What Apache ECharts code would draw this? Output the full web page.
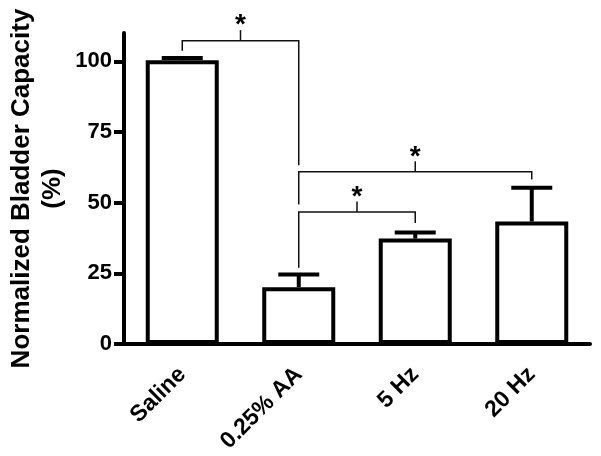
<!DOCTYPE html>
<html>
<head>
<meta charset="utf-8">
<script src="https://cdn.jsdelivr.net/npm/echarts@6/dist/echarts.min.js"></script>
<style>html,body{margin:0;padding:0;background:#fff}#c{width:601px;height:456px}</style>
</head>
<body>
<div id="c"></div>
<script>
// ---- data ----
var categories = ['Saline', '0.25% AA', '5 Hz', '20 Hz'];
var means = [100.4, 20.1, 37.3, 43.3];
var sems = [0.8, 4.5, 2.1, 12.0];
var yTicks = [0, 25, 50, 75, 100];
// significance brackets: from/to category index, bar height, leg ends, label
var bracketFrom = [0, 1, 1];
var bracketTo = [1, 3, 2];
var bracketLevel = [107.3, 60.9, 46.7];
var bracketLeftEnd = [103.7, 49.3, 27.0];
var bracketRightEnd = [63.2, 58.2, 42.8];
var bracketLabel = ['*', '*', '*'];

var FONT = '"Liberation Sans", Arial, sans-serif';
var chart = echarts.init(document.getElementById('c'), null, {renderer: 'canvas'});

var errData = categories.map(function (c, i) { return [i, means[i], means[i] + sems[i]]; });
var brData = bracketFrom.map(function (f, i) {
  return [f, bracketTo[i], bracketLevel[i], bracketLeftEnd[i], bracketRightEnd[i]];
});

chart.setOption({
  animation: false,
  grid: {left: 124, right: 11, top: 33, bottom: 112, containLabel: false, outerBoundsMode: 'none'},
  xAxis: {
    type: 'category',
    data: categories,
    axisLine: {lineStyle: {color: '#000', width: 4}},
    axisTick: {alignWithLabel: true, length: 9, lineStyle: {color: '#000', width: 4}},
    axisLabel: {
      rotate: 45, interval: 0, margin: 27,
      fontFamily: FONT, fontWeight: 'bold', fontSize: 23, color: '#000'
    },
    splitLine: {show: false}
  },
  yAxis: {
    type: 'value',
    min: 0, max: 110, interval: 25,
    name: 'Normalized Bladder Capacity\n(%)',
    nameLocation: 'middle',
    nameRotate: 90,
    nameGap: 56,
    nameMoveOverlap: false,
    nameTextStyle: {fontFamily: FONT, fontWeight: 'bold', fontSize: 26, color: '#000', lineHeight: 31, align: 'center'},
    axisLine: {show: true, lineStyle: {color: '#000', width: 4}},
    axisTick: {show: true, length: 10, customValues: yTicks, lineStyle: {color: '#000', width: 4}},
    axisLabel: {customValues: yTicks, margin: 12, fontFamily: FONT, fontWeight: 'bold', fontSize: 22, color: '#000'},
    splitLine: {show: false}
  },
  series: [
    {
      type: 'bar',
      data: means,
      barWidth: 73,
      itemStyle: {color: '#fff', borderColor: '#000', borderWidth: 4},
      z: 2
    },
    {
      type: 'custom',
      data: errData,
      z: 3,
      renderItem: function (params, api) {
        var x = api.value(0);
        var top = api.coord([x, api.value(2)]);
        var base = api.coord([x, api.value(1)]);
        var hw = 20.5;
        return {
          type: 'group',
          children: [
            {type: 'line', shape: {x1: top[0], y1: top[1], x2: base[0], y2: base[1]}, style: {stroke: '#000', lineWidth: 4}},
            {type: 'line', shape: {x1: top[0] - hw, y1: top[1], x2: top[0] + hw, y2: top[1]}, style: {stroke: '#000', lineWidth: 4}}
          ]
        };
      }
    },
    {
      type: 'custom',
      data: brData,
      clip: false,
      z: 4,
      renderItem: function (params, api) {
        var f = api.value(0), t = api.value(1);
        var lvl = api.value(2), le = api.value(3), re = api.value(4);
        var a = api.coord([f, lvl]), b = api.coord([t, lvl]);
        var la = api.coord([f, le]), rb = api.coord([t, re]);
        var mx = (a[0] + b[0]) / 2;
        var label = bracketLabel[params.dataIndex];
        var st = {stroke: '#111', lineWidth: 1.5, fill: null};
        return {
          type: 'group',
          children: [
            {type: 'polyline', shape: {points: [[la[0], la[1]], [a[0], a[1]], [b[0], b[1]], [rb[0], rb[1]]]}, style: st},
            {type: 'line', shape: {x1: mx, y1: a[1], x2: mx, y2: a[1] - 10.5}, style: st},
            {type: 'text', x: mx, y: a[1] - 15, style: {text: label, fill: '#000', font: 'bold 28px ' + FONT, align: 'center', verticalAlign: 'middle'}}
          ]
        };
      }
    }
  ]
});
</script>
</body>
</html>
